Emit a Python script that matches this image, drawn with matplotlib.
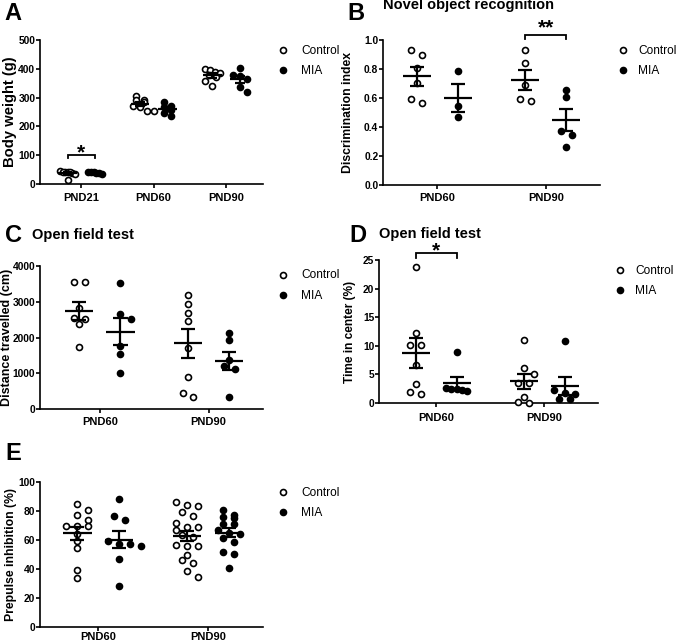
import numpy as np
import matplotlib
matplotlib.use("Agg")
import matplotlib.pyplot as plt
from matplotlib.lines import Line2D

plt.rcParams['font.family'] = ['Liberation Sans', 'DejaVu Sans']

W, H, DPI = 676, 643, 100

groups = ["Control", "MIA"]

# Panel A: body weight (g)
a_days = ["PND21", "PND60", "PND90"]
a_ctrl = [[42, 40, 38, 45, 36, 40, 15, 43],
          [307, 292, 283, 290, 270, 268, 252, 255],
          [400, 395, 388, 385, 378, 370, 358, 340]]
a_mia = [[40, 38, 42, 37, 41, 36],
         [284, 272, 268, 258, 245, 235],
         [402, 378, 375, 365, 338, 320]]

# Panel B: novel object recognition (discrimination index)
b_days = ["PND60", "PND90"]
b_ctrl = [[0.93, 0.90, 0.81, 0.70, 0.59, 0.565],
          [0.93, 0.838, 0.688, 0.59, 0.577]]
b_mia = [[0.785, 0.543, 0.469],
         [0.658, 0.607, 0.37, 0.345, 0.261]]

# Panel C: open field, distance travelled (cm)
c_days = ["PND60", "PND90"]
c_ctrl = [[3553, 3553, 2837, 2558, 2530, 2372, 1721],
          [3182, 2949, 2698, 2456, 1712, 902, 437, 344]]
c_mia = [[3526, 2670, 2512, 1767, 1535, 995],
         [2112, 1926, 1368, 1200, 1107, 344]]

# Panel D: open field, time in center (%)
d_days = ["PND60", "PND90"]
d_ctrl = [[23.7, 12.3, 10.1, 10.2, 6.7, 3.3, 1.6, 2.0],
          [11.1, 6.1, 5.15, 3.5, 3.5, 1.05, 0.0, 0.1]]
d_mia = [[8.9, 2.2, 2.6, 2.5, 2.4, 2.1],
         [10.8, 1.75, 1.6, 2.2, 0.7, 0.7]]

# Panel E: prepulse inhibition (%)
e_days = ["PND60", "PND90"]
e_ctrl = [[85, 81, 77, 73.6, 69.7, 69.7, 69.7, 64, 59, 54.5, 39, 34],
          [86.2, 83.9, 83.4, 79.3, 76.6, 72, 69, 69, 67, 63.2, 62, 55.6, 55.6,
           56.8, 49.9, 46.4, 44.4, 38.6, 34.5]]
e_mia = [[88.5, 76.3, 73.6, 59.5, 57, 57, 56, 47, 28],
         [80.5, 77.5, 75.9, 75.2, 71.3, 71.3, 66.7, 65, 64, 61.4, 58.6, 51.7,
          50.1, 40.9]]

fig = plt.figure(figsize=(W / DPI, H / DPI), dpi=DPI)
fig.patch.set_facecolor('white')


def fx(x):
    return x / W


def fy(y):
    return 1 - y / H


def add_ax(l, t, r, b):
    return fig.add_axes([l / W, 1 - b / H, (r - l) / W, (b - t) / H])


GOFF = 0.19
MS = 4.3


def row_offsets(vals, ppu_y, ppu_x, thr_px=4.5, s_max=0.1, w_max=0.2, diam=6.5):
    vals = np.asarray(vals, float)
    order = np.argsort(-vals, kind='stable')
    offs = np.zeros(len(vals))
    placed = []
    i = 0
    while i < len(order):
        row = [order[i]]
        j = i + 1
        while j < len(order) and (vals[order[i]] - vals[order[j]]) * ppu_y < thr_px:
            row.append(order[j])
            j += 1
        n = len(row)
        if n > 1:
            s = min(s_max, w_max / (n - 1))
            for k, idx in enumerate(row):
                offs[idx] = (k - (n - 1) / 2) * s
        else:
            idx = row[0]
            for cand in [0, s_max, -s_max, 2 * s_max, -2 * s_max]:
                ok = True
                for p in placed:
                    dx = (cand - offs[p]) * ppu_x
                    dy = (vals[idx] - vals[p]) * ppu_y
                    if dx * dx + dy * dy < diam * diam:
                        ok = False
                        break
                if ok:
                    offs[idx] = cand
                    break
        placed.extend(row)
        i = j
    return offs


def panel(ax, days, ctrl, mia, ylim, yticks, yfmt, ylabel, xlim, ax_h_px, ax_w_px,
          ylab_fs=8.6, xpad=3):
    ppu_y = ax_h_px / (ylim[1] - ylim[0])
    ppu_x = ax_w_px / (xlim[1] - xlim[0])
    for gi, data in enumerate([ctrl, mia]):
        sign = -1 if gi == 0 else 1
        for di, vals in enumerate(data):
            vals = np.asarray(vals, float)
            xc = di + sign * GOFF
            xs = xc + row_offsets(vals, ppu_y, ppu_x)
            ax.plot(xs, vals, 'o', ms=MS, mfc='white' if gi == 0 else 'black',
                    mec='black', mew=1.2, ls='none', zorder=3, clip_on=False)
            m = vals.mean()
            sem = vals.std(ddof=1) / np.sqrt(len(vals))
            ax.hlines(m, xc - 0.13, xc + 0.13, color='black', lw=1.6, zorder=4)
            ax.vlines(xc, m - sem, m + sem, color='black', lw=1.6, zorder=4)
            ax.hlines([m - sem, m + sem], xc - 0.065, xc + 0.065, color='black',
                      lw=1.6, zorder=4)
    ax.set_xlim(*xlim)
    ax.set_ylim(*ylim)
    ax.set_xticks(range(len(days)))
    ax.set_xticklabels(days, fontsize=8, fontweight='bold')
    ax.set_yticks(yticks)
    ax.set_yticklabels([yfmt.format(v) for v in yticks], fontsize=7.4,
                       fontweight='bold')
    for s in ['top', 'right']:
        ax.spines[s].set_visible(False)
    for s in ['left', 'bottom']:
        ax.spines[s].set_linewidth(1.2)
    ax.tick_params(axis='both', direction='out', length=2.6, width=1.2, color='black')
    ax.tick_params(axis='y', pad=0.8)
    ax.tick_params(axis='x', pad=xpad)
    ax.set_ylabel(ylabel, fontsize=ylab_fs, fontweight='bold')
    ax.set_facecolor('none')


def sig(ax, xa, xb, y, tip, label, off=-2.5):
    ax.plot([xa, xa, xb, xb], [y - tip, y, y, y - tip], color='black', lw=1.3,
            clip_on=False, solid_joinstyle='miter')
    ax.annotate(label, xy=((xa + xb) / 2, y), xytext=(0, off), textcoords='offset points',
                ha='center', va='baseline', fontsize=15, fontweight='bold',
                annotation_clip=False)


def legend(xm, y1, y2, xt):
    for y, filled, lab in [(y1, False, groups[0]), (y2, True, groups[1])]:
        fig.add_artist(Line2D([fx(xm)], [fy(y)], transform=fig.transFigure,
                              marker='o', ms=MS, mfc='black' if filled else 'white',
                              mec='black', mew=1.2, ls='none'))
        fig.text(fx(xt), fy(y + 3.5), lab, fontsize=8.6, ha='left', va='baseline')


def set_ylabel_right(ax, x_right_px, l, r):
    ax.yaxis.set_label_coords((x_right_px - l) / (r - l), 0.5)


# ---- Panel A
l, t, r, b = 40, 40, 263, 184
axA = add_ax(l, t, r, b)
panel(axA, a_days, a_ctrl, a_mia, (0, 500), [0, 100, 200, 300, 400, 500], '{:.0f}',
      'Body weight (g)', (-0.57, 2.51), b - t, r - l, ylab_fs=10.6, xpad=4)
set_ylabel_right(axA, 17, l, r)
sig(axA, -GOFF, GOFF, 101, 9, '*')
legend(283, 50, 70, 301)
fig.text(fx(4), fy(20.5), 'A', fontsize=17, fontweight='bold', ha='left', va='baseline')

# ---- Panel B
l, t, r, b = 383, 40, 600, 185
axB = add_ax(l, t, r, b)
panel(axB, b_days, b_ctrl, b_mia, (0, 1.0), [0, 0.2, 0.4, 0.6, 0.8, 1.0], '{:.1f}',
      'Discrimination index', (-0.5, 1.5), b - t, r - l, ylab_fs=8.8)
set_ylabel_right(axB, 354, l, r)
sig(axB, 1 - GOFF, 1 + GOFF, 1.035, 0.025, '**', off=1)
legend(623, 50, 70, 638)
fig.text(fx(347), fy(19.5), 'B', fontsize=17, fontweight='bold', ha='left', va='baseline')
fig.text(fx(383), fy(9.5), 'Novel object recognition', fontsize=10.5,
         fontweight='bold', ha='left', va='baseline')

# ---- Panel C
l, t, r, b = 40, 266, 263, 409
axC = add_ax(l, t, r, b)
panel(axC, c_days, c_ctrl, c_mia, (0, 4000), [0, 1000, 2000, 3000, 4000], '{:.0f}',
      'Distance travelled (cm)', (-0.55, 1.5), b - t, r - l, ylab_fs=9)
set_ylabel_right(axC, 13, l, r)
legend(283, 275, 295, 301)
fig.text(fx(5), fy(242), 'C', fontsize=17, fontweight='bold', ha='left', va='baseline')
fig.text(fx(32), fy(239), 'Open field test', fontsize=10.5, fontweight='bold',
         ha='left', va='baseline')

# ---- Panel D
l, t, r, b = 379, 260, 598, 403
axD = add_ax(l, t, r, b)
panel(axD, d_days, d_ctrl, d_mia, (0, 25), [0, 5, 10, 15, 20, 25], '{:.0f}',
      'Time in center (%)', (-0.53, 1.5), b - t, r - l, ylab_fs=8.6, xpad=4.5)
set_ylabel_right(axD, 356, l, r)
sig(axD, -GOFF, GOFF, 26.2, 0.9, '*')
legend(620, 270, 290, 635)
fig.text(fx(349), fy(242), 'D', fontsize=17, fontweight='bold', ha='left', va='baseline')
fig.text(fx(379), fy(238), 'Open field test', fontsize=10.5, fontweight='bold',
         ha='left', va='baseline')

# ---- Panel E
l, t, r, b = 40, 482, 263, 627
axE = add_ax(l, t, r, b)
panel(axE, e_days, e_ctrl, e_mia, (0, 100), [0, 20, 40, 60, 80, 100], '{:.0f}',
      'Prepulse inhibition (%)', (-0.53, 1.5), b - t, r - l, ylab_fs=8.8, xpad=1)
set_ylabel_right(axE, 17, l, r)
legend(283, 492, 512, 301)
fig.text(fx(5), fy(460), 'E', fontsize=17, fontweight='bold', ha='left', va='baseline')

fig.savefig('out.png', dpi=DPI)
